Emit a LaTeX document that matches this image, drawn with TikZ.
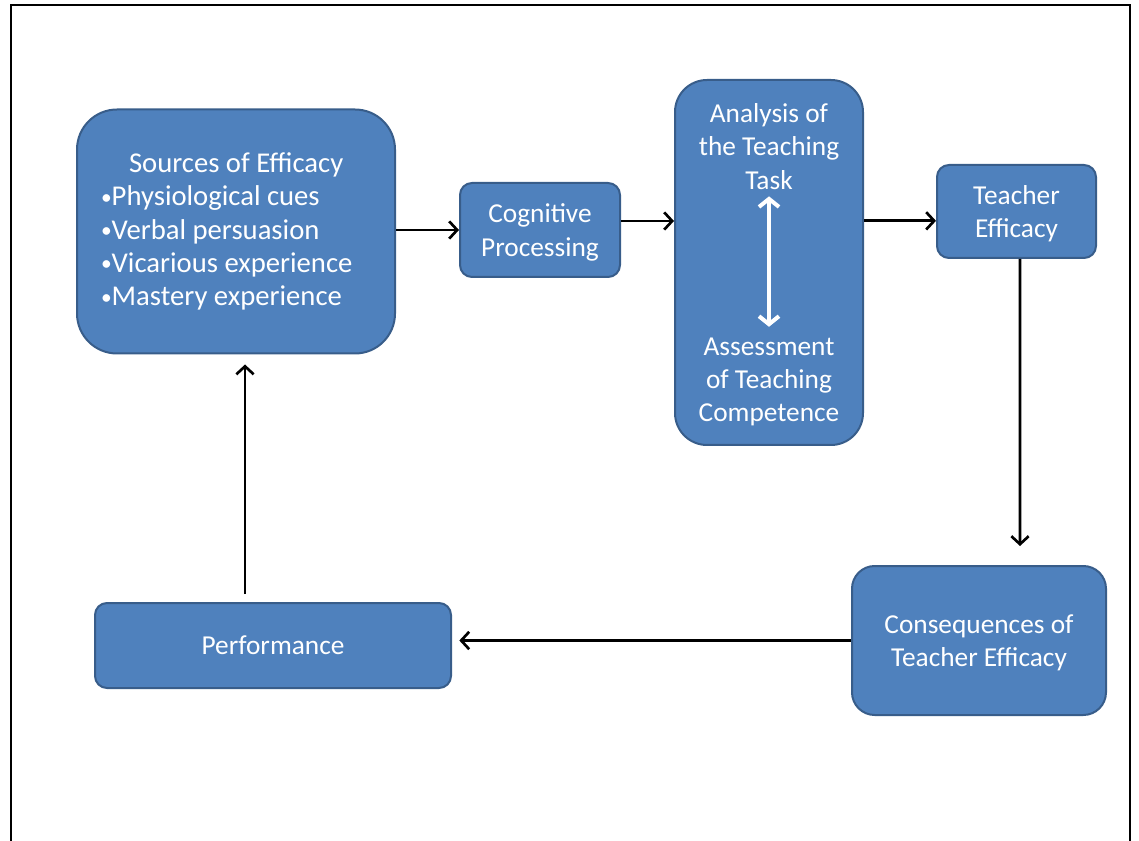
\documentclass[tikz,border=0pt]{standalone}
\usepackage{fontspec}
\setmainfont{Carlito}
\usepackage{tikz}
\usetikzlibrary{arrows.meta, positioning}
\definecolor{boxblue}{RGB}{79,129,189}
\definecolor{boxedge}{RGB}{56,93,138}
\newcommand{\itembullet}{\raisebox{0.12ex}{\scalebox{0.75}{•}}}
\tikzset{
  box/.style={rectangle, draw=boxedge, fill=boxblue, text=white,
    align=center, font=\fontsize{20.5}{25}\selectfont,
    line width=1.5pt, inner sep=0pt},
  flatbox/.style={box, text depth=0pt},
  boxtext/.style={text=white, align=center,
    font=\fontsize{20.5}{25}\selectfont, inner sep=0pt},
  arrow/.style={-{Straight Barb[length=6pt, width=13pt]}, line width=2pt, black},
  whitearrow/.style={{Straight Barb[length=6pt, width=15pt]}-{Straight Barb[length=6pt, width=15pt]},
    line width=3pt, white},
  frame/.style={line width=1.5pt, black}
}

\begin{document}
\begin{tikzpicture}[x=0.75pt, y=-0.75pt]
  \useasboundingbox (0,0) rectangle (1139,841);
  \draw[frame] (10.5,841) -- (10.5,5.5) -- (1130,5.5) -- (1130,841);

  % boxes
  \node[box, text width=202.5pt, inner xsep=18pt, minimum height=183pt,
    align=flush left, rounded corners=30pt,
    font=\fontsize{21.5}{25}\selectfont] (sources) at (236,231.5)
    {\hspace*{21pt}Sources of Efficacy\\
     \itembullet Physiological cues\\
     \itembullet Verbal persuasion\\
     \itembullet Vicarious experience\\
     \itembullet Mastery experience};
  \node[flatbox, minimum width=120pt, minimum height=70.5pt,
    rounded corners=9pt] (cognitive) at (540,230) {Cognitive\\Processing};
  \node[box, minimum width=141pt, minimum height=273.75pt,
    rounded corners=24pt] (analysis) at (769,262.5) {};
  \node[boxtext] (task) at (769,146.5) {Analysis of\\the Teaching\\Task};
  \node[boxtext] (competence) at (769,382) {Assessment\\of Teaching\\Competence};
  \node[flatbox, minimum width=119.25pt, minimum height=69.75pt,
    rounded corners=9pt] (teacher) at (1016.5,211.5) {Teacher\\Efficacy};
  \node[flatbox, minimum width=190.5pt, minimum height=111.75pt,
    rounded corners=17pt] (consequences) at (979,640.5)
    {Consequences of\\Teacher Efficacy};
  \node[flatbox, minimum width=267pt, minimum height=63.75pt,
    rounded corners=9pt] (performance) at (273,645.5) {Performance};

  % connectors
  \draw[whitearrow] ([yshift=-5pt]task.south) -- ([yshift=8pt]competence.north);
  \draw[arrow] (sources.east |- cognitive.west) -- (cognitive.west);
  \coordinate (cogout) at ([yshift=6.75pt]cognitive.east);
  \draw[arrow] (cogout) -- (cogout -| analysis.west);
  \coordinate (teachin) at ([yshift=-7pt]teacher.west);
  \draw[arrow] (teachin -| analysis.east) -- (teachin);
  \draw[arrow] ([xshift=2.6pt]teacher.south)
    -- ([xshift=30.75pt, yshift=14.25pt]consequences.north);
  \draw[arrow] (consequences.west) -- ([xshift=5.5pt]consequences.west -| performance.east);
  \draw[arrow] ([xshift=-21pt, yshift=6pt]performance.north)
    -- ([xshift=6.75pt, yshift=-7.5pt]sources.south);
\end{tikzpicture}
\end{document}
